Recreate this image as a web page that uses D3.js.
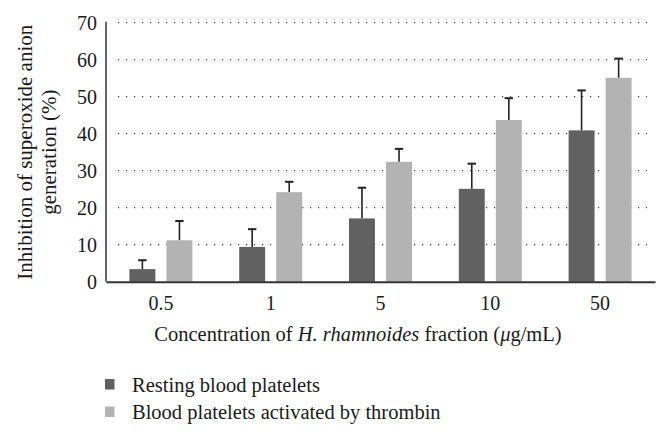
<!DOCTYPE html>
<html>
<head>
<meta charset="utf-8">
<script src="https://cdn.jsdelivr.net/npm/d3@7"></script>
<style>
  html, body { margin: 0; padding: 0; background: #fff; }
</style>
</head>
<body>
<svg id="chart" width="670" height="437" style="font-family:'Liberation Serif'"></svg>
<script>
const categories = ["0.5", "1", "5", "10", "50"];
const seriesNames = ["Resting blood platelets", "Blood platelets activated by thrombin"];
const restingValues = [3.4, 9.4, 17.1, 25.1, 40.9];
const restingErrTop = [5.8, 14.2, 25.4, 31.9, 51.7];
const thrombinValues = [11.2, 24.2, 32.4, 43.7, 55.1];
const thrombinErrTop = [16.4, 27.0, 35.9, 49.6, 60.3];
const yTicks = [0, 10, 20, 30, 40, 50, 60, 70];
const colors = ["#616161", "#b3b3b3"];

const FONT = "'Liberation Serif', 'Times New Roman', serif";
const TXT = "#1a1a1a";
const svg = d3.select("#chart");
const margin = { left: 106, right: 15, top: 22.7, bottom: 155.3 };
const W = 670, H = 437;

const x = d3.scaleBand().domain(categories).range([margin.left, W - margin.right]).paddingInner(0).paddingOuter(0);
const xSub = d3.scaleBand().domain([0, 1]).range([x.bandwidth() / 2 - 31.5, x.bandwidth() / 2 + 31.5]).paddingInner(0.3).paddingOuter(0);
const y = d3.scaleLinear().domain([0, 70]).range([H - margin.bottom, margin.top]);

// gridlines (dotted)
svg.append("g").selectAll("line").data(yTicks.filter(d => d > 0)).join("line")
  .attr("x1", margin.left + 12).attr("x2", W - margin.right - 8)
  .attr("y1", d => y(d)).attr("y2", d => y(d))
  .attr("stroke", "#444").attr("stroke-width", 1.2)
  .attr("stroke-dasharray", "1.2,6.8");

// y tick labels
const yAxis = d3.axisLeft(y).tickValues(yTicks).tickSize(0).tickPadding(9);
const gy = svg.append("g").attr("transform", `translate(${margin.left},0)`).call(yAxis)
  .attr("font-family", FONT).attr("font-size", 20);
gy.select(".domain").remove();
gy.selectAll("text").attr("font-family", FONT).attr("font-size", 20).attr("fill", TXT).attr("dy", "0.34em");

// bars
const data = categories.map((c, i) => ({ c, vals: [
  { s: 0, v: restingValues[i], e: restingErrTop[i] },
  { s: 1, v: thrombinValues[i], e: thrombinErrTop[i] }
]}));

const groups = svg.append("g").selectAll("g").data(data).join("g")
  .attr("transform", d => `translate(${x(d.c)},0)`);

groups.selectAll("line.err").data(d => d.vals).join("line").attr("class", "err")
  .attr("x1", d => xSub(d.s) + xSub.bandwidth() / 2)
  .attr("x2", d => xSub(d.s) + xSub.bandwidth() / 2)
  .attr("y1", d => y(d.v)).attr("y2", d => y(d.e))
  .attr("stroke", "#222").attr("stroke-width", 1.6);
groups.selectAll("line.cap").data(d => d.vals).join("line").attr("class", "cap")
  .attr("x1", d => xSub(d.s) + xSub.bandwidth() / 2 - 4.2)
  .attr("x2", d => xSub(d.s) + xSub.bandwidth() / 2 + 4.2)
  .attr("y1", d => y(d.e)).attr("y2", d => y(d.e))
  .attr("stroke", "#222").attr("stroke-width", 2);

groups.selectAll("rect").data(d => d.vals).join("rect")
  .attr("x", d => xSub(d.s)).attr("width", xSub.bandwidth())
  .attr("y", d => y(d.v)).attr("height", d => y(0) - y(d.v))
  .attr("fill", d => colors[d.s]);

// axes lines
svg.append("line").attr("x1", margin.left).attr("x2", margin.left)
  .attr("y1", margin.top - 1).attr("y2", y(0)).attr("stroke", "#333").attr("stroke-width", 1.5);
const xAxis = d3.axisBottom(x).tickSize(0).tickPadding(14);
const gx = svg.append("g").attr("transform", `translate(0,${y(0)})`).call(xAxis)
  .attr("font-family", FONT).attr("font-size", 20);
gx.select(".domain").attr("stroke", "#333").attr("stroke-width", 2);
gx.selectAll("text").attr("font-family", FONT).attr("font-size", 20).attr("fill", TXT);

// y axis title
const yt = svg.append("text").attr("transform", `translate(0,${(y(0) + y(70)) / 2}) rotate(-90)`)
  .attr("text-anchor", "middle").attr("font-family", FONT).attr("font-size", 21).attr("fill", TXT);
yt.append("tspan").attr("x", 0).attr("y", 32).text("Inhibition of superoxide anion");
yt.append("tspan").attr("x", 0).attr("y", 56).text("generation (%)");

// x axis title
const xt = svg.append("text").attr("x", 358).attr("y", 341).attr("text-anchor", "middle")
  .attr("font-family", FONT).attr("font-size", 20.5).attr("fill", TXT);
xt.append("tspan").text("Concentration of ");
xt.append("tspan").attr("font-style", "italic").text("H. rhamnoides");
xt.append("tspan").text(" fraction (");
xt.append("tspan").attr("font-style", "italic").text("μ");
xt.append("tspan").text("g/mL)");

// legend
const leg = svg.append("g").selectAll("g").data(seriesNames).join("g")
  .attr("transform", (d, i) => `translate(105,${379 + i * 27.5})`);
leg.append("rect").attr("width", 9.5).attr("height", 10.5).attr("fill", (d, i) => colors[i]);
leg.append("text").attr("x", 27).attr("y", 12.5).attr("font-family", FONT).attr("font-size", 20.5).attr("fill", TXT).text(d => d);
</script>
</body>
</html>
